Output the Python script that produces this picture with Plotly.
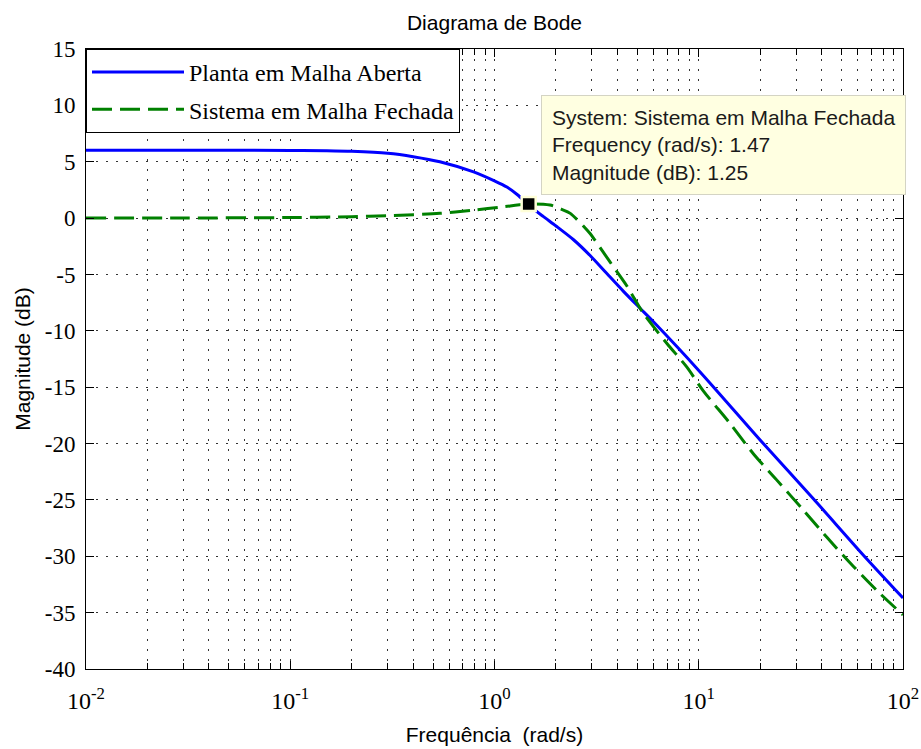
import math
import plotly.graph_objects as go

# ---- data ----
freq_open = [0.01, 0.03, 0.1, 0.15, 0.2, 0.3, 0.4, 0.54, 0.79, 1.0, 1.15, 1.3, 1.47,
             1.73, 2.0, 2.43, 2.93, 3.54, 4.28, 5.16, 6.0, 10.1, 20.7, 36.4, 64.0, 100.0]
mag_open = [6.02, 6.02, 6.0, 5.97, 5.92, 5.75, 5.45, 5.0, 4.1, 3.3, 2.75, 2.05, 1.15,
            0.15, -0.7, -1.9, -3.3, -4.9, -6.5, -8.0, -9.2, -13.6, -20.0, -24.9, -29.9, -33.7]

freq_closed = [0.01, 0.03, 0.1, 0.2, 0.3, 0.54, 0.79, 1.1, 1.47, 1.87, 2.13, 2.35, 2.93,
               3.1, 3.67, 4.44, 5.36, 6.97, 8.73, 10.5, 14.2, 18.5, 24.0, 32.5, 42.3, 57.2, 77.1, 100.0]
mag_closed = [0.0, 0.01, 0.05, 0.12, 0.22, 0.42, 0.7, 1.0, 1.25, 1.16, 0.78, 0.42, -1.35,
              -1.95, -3.87, -6.0, -8.45, -11.1, -13.2, -15.3, -18.2, -20.9, -23.2, -25.9, -28.3, -30.9, -33.3, -35.2]

tip_freq = 1.47
tip_mag = 1.25

series_names = ["Planta em Malha Aberta", "Sistema em Malha Fechada"]
x_tick_vals = [0.01, 0.1, 1, 10, 100]
x_tick_text = ["10<sup>-2</sup>", "10<sup>-1</sup>", "10<sup>0</sup>", "10<sup>1</sup>", "10<sup>2</sup>"]
x_minor_vals = [m * d for d in (0.01, 0.1, 1, 10) for m in range(2, 10)]
y_tick_vals = [15, 10, 5, 0, -5, -10, -15, -20, -25, -30, -35, -40]
y_tick_text = ["15", "10", "5", "0", "-5", "-10", "-15", "-20", "-25", "-30", "-35", "-40"]
y_range = [-40, 15]

SERIF = "Liberation Serif"
SANS = "Liberation Sans"
GRID = dict(showgrid=True, gridcolor="#333333", gridwidth=1, griddash="2px,8px")

fig = go.Figure()
fig.add_trace(go.Scatter(
    x=freq_open, y=mag_open, mode="lines", name=series_names[0], legendgroup="a",
    line=dict(color="#0000FF", width=3, shape="spline", smoothing=0.8),
    hoverinfo="skip"))
fig.add_trace(go.Scatter(
    x=freq_closed, y=mag_closed, mode="lines", name=series_names[1], legendgroup="b",
    line=dict(color="#008000", width=3, dash="20px,8px", shape="spline", smoothing=0.8),
    hoverinfo="skip"))
fig.add_trace(go.Scatter(
    x=[tip_freq], y=[tip_mag], mode="markers", showlegend=False, hoverinfo="skip",
    marker=dict(symbol="square", size=14, color="black",
                line=dict(color="#FFFFD8", width=2.5))))

fig.add_annotation(
    x=math.log10(tip_freq), y=tip_mag, xref="x", yref="y",
    xanchor="left", yanchor="bottom", xshift=12, yshift=9, showarrow=False,
    text=("System: " + series_names[1] + "<br>Frequency (rad/s): " + f"{tip_freq:.2f}"
          + "<br>Magnitude (dB): " + f"{tip_mag:.2f}"),
    align="left", bgcolor="#FFFFE1", bordercolor="#D4D4C4", borderwidth=1, borderpad=10,
    font=dict(family=SANS, size=21, color="#1a1a1a"))

fig.update_layout(
    width=921, height=749,
    margin=dict(l=86, r=18, t=49, b=80),
    paper_bgcolor="white", plot_bgcolor="white",
    title=dict(text="Diagrama de Bode", x=0.5, xref="paper", xanchor="center",
               y=1 - 23 / 749, yref="container", yanchor="middle",
               font=dict(family=SANS, size=21, color="black")),
    legend=dict(x=0, y=1, xanchor="left", yanchor="top", bgcolor="white",
                bordercolor="black", borderwidth=1, itemwidth=92,
                traceorder="grouped", tracegroupgap=3,
                font=dict(family=SERIF, size=24, color="black")),
    xaxis=dict(type="log", range=[-2, 2], tickmode="array", tickvals=x_tick_vals,
               ticktext=x_tick_text, ticks="inside", ticklen=8, tickcolor="black",
               showline=True, linecolor="black", linewidth=1, mirror="allticks",
               zeroline=False, ticklabelstandoff=10, automargin=False,
               tickfont=dict(family=SERIF, size=24, color="black"),
               title=dict(text="Frequência  (rad/s)", standoff=14,
                          font=dict(family=SANS, size=21, color="black")),
               minor=dict(tickmode="array", tickvals=x_minor_vals, ticks="inside",
                          ticklen=6, tickcolor="black", **GRID),
               **GRID),
    yaxis=dict(range=y_range, tickmode="array", tickvals=y_tick_vals, ticktext=y_tick_text,
               ticks="inside", ticklen=8, tickcolor="black",
               showline=True, linecolor="black", linewidth=1, mirror="allticks",
               zeroline=False, ticklabelstandoff=5, automargin=False,
               tickfont=dict(family=SERIF, size=23, color="black"),
               title=dict(text="Magnitude (dB)", standoff=8,
                          font=dict(family=SANS, size=21, color="black")),
               **GRID),
)

fig.write_html("out.html")
